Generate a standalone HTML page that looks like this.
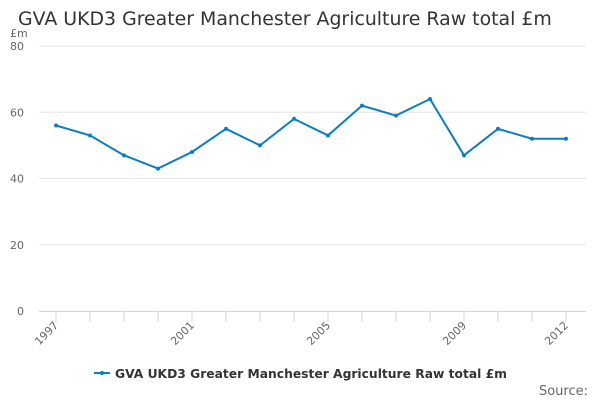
<!DOCTYPE html>
<html><head><meta charset="utf-8"><style>
body{margin:0;background:#fff;font-family:"DejaVu Sans","Liberation Sans",sans-serif;}
svg text{font-family:"DejaVu Sans","Liberation Sans",sans-serif;}
</style></head><body>
<svg id="chart" width="600" height="400">
<text x="18" y="25" font-size="18.9" fill="#333">GVA UKD3 Greater Manchester Agriculture Raw total £m</text>
<text x="10" y="37" font-size="11" fill="#666">£m</text>
<g id="grid"></g><g id="xaxis"></g><g id="series"></g>
<g>
<line x1="94" y1="373" x2="110" y2="373" stroke="#0b7dc3" stroke-width="2"/>
<circle cx="102" cy="373" r="2" fill="#0b7dc3"/>
<text x="115" y="378" font-size="12.3" font-weight="bold" fill="#333">GVA UKD3 Greater Manchester Agriculture Raw total £m</text>
</g>
<text x="588" y="395" font-size="13" fill="#666" text-anchor="end">Source:</text>
</svg>
<script>
const years=[1997,1998,1999,2000,2001,2002,2003,2004,2005,2006,2007,2008,2009,2010,2011,2012];
const values=[56,53,47,43,48,55,50,58,53,62,59,64,47,55,52,52];
const yTicks=[0,20,40,60,80];
const xLabels=[1997,2001,2005,2009,2012];
const NS="http://www.w3.org/2000/svg";
const x=v=>56+(v-1997)*34;
const y=v=>311-v*3.3125;
function mk(t,a,p){const e=document.createElementNS(NS,t);for(const k in a)e.setAttribute(k,a[k]);p.appendChild(e);return e;}
const grid=document.getElementById('grid'),xa=document.getElementById('xaxis'),s=document.getElementById('series');
yTicks.forEach(v=>{
 if(v>0){const l=mk('line',{x1:39,x2:586,y1:y(v),y2:y(v),stroke:'#e6e6e6'},grid);
 
 }
 const t=mk('text',{x:24,y:y(v)+4,'font-size':11,fill:'#666','text-anchor':'end'},grid);t.textContent=v;
 
 
});
const ax=mk('line',{x1:39,x2:586,y1:311.5,y2:311.5,stroke:'#ccd6eb'},xa);


years.forEach(yr=>{const tk=mk('line',{x1:x(yr),x2:x(yr),y1:311,y2:322,stroke:'#ccd6eb'},xa);
 
 });
xLabels.forEach(yr=>{const t=mk('text',{x:x(yr)+3,y:326,'font-size':11,fill:'#666','text-anchor':'end',transform:`rotate(-45 ${x(yr)+3} 326)`},xa);t.textContent=yr;
 
 });
const pts=years.map((yr,i)=>x(yr)+','+y(values[i])).join(' ');
const pl=mk('polyline',{points:pts,fill:'none',stroke:'#0b7dc3','stroke-width':2},s);


years.forEach((yr,i)=>{const c=mk('circle',{cx:x(yr),cy:y(values[i]),r:2,fill:'#0b7dc3'},s);
 
 });
</script>
</body></html>
